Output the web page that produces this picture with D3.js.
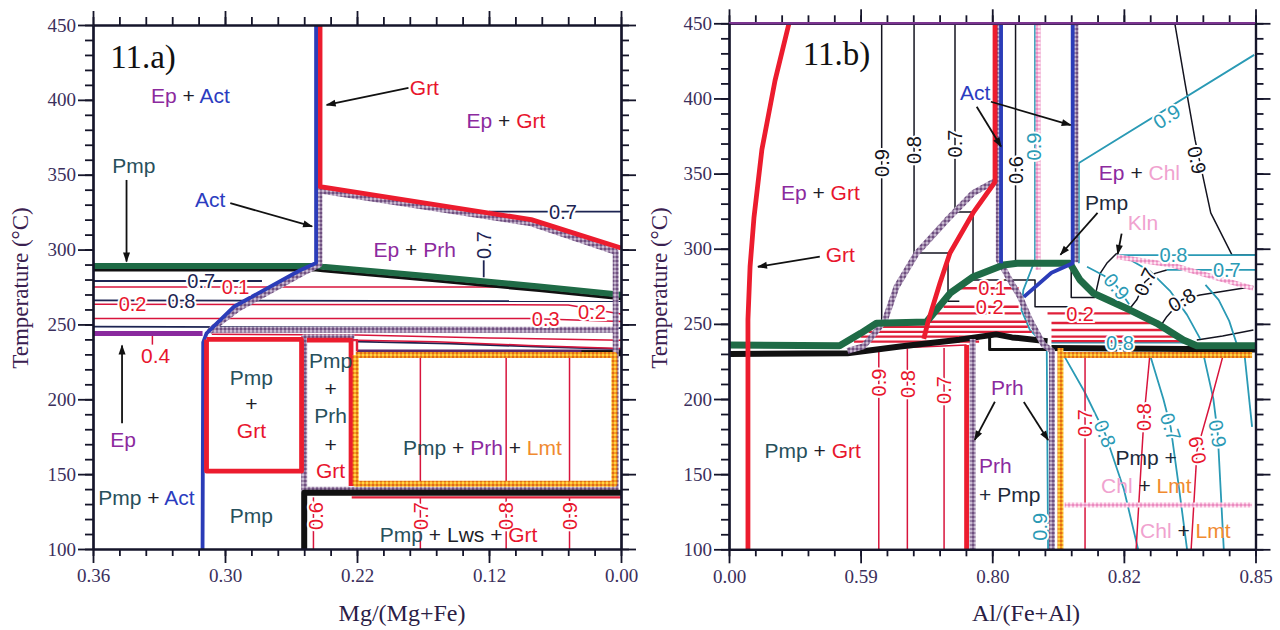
<!DOCTYPE html>
<html><head><meta charset="utf-8">
<script src="https://cdn.jsdelivr.net/npm/d3@7/dist/d3.min.js"></script>
<style>
html,body{margin:0;padding:0;background:#fff}
text{white-space:pre}
</style></head>
<body><svg id="chart" width="1280" height="630"></svg>
<script>
// ================= DATA (x in tick-interval units 0..4, y in °C) =================
const tempTicks = [100,150,200,250,300,350,400,450];
const aTickLabels = ["0.36","0.30","0.22","0.12","0.00"];
const bTickLabels = ["0.00","0.59","0.80","0.82","0.85"];

// ---- panel 11.a ----
const aGrt = [[1.72,450],[1.72,342],[3.32,320],[4,301]];
const aPrhRim = [[1.72,339.5],[3.32,317.5],[3.96,298.5],[3.96,139.5],[1.6,139.5],[1.6,241.5],[1.98,241.5]];
const aPrhBase = [[0.88,246.5],[3.96,246.5]];
const aActRim = [[1.715,342],[1.715,290],[1.59,284.5],[1.1,260.5],[0.9,247],[0.88,245]];
const aAct = [[1.69,450],[1.69,291],[1.565,286],[1.07,262],[0.86,244],[0.835,238],[0.83,100]];
const aPmp = [[0,289],[1.69,289],[1.74,288.5],[2.57,282],[3.38,275.3],[4,269.8]];
const aPmpUnder = [[0,286.3],[1.69,286.3],[1.74,285.8],[2.57,279.4],[3.38,272.6],[4,267.2]];
const aEp = [[0,244],[0.83,244]];
const aIsoNavy = [
  [[0,279],[1.28,279]], [[0,266],[4,265.5]], [[0,248.5],[4,247.5]],
  [[2,238.5],[2.7,237.2],[3.4,235],[4,233.5]], [[3,325.4],[4,325.4]], [[2.96,295],[2.96,281.5]]
];
const aIsoRed = [
  [[0,275],[3.4,275]], [[0,263.5],[3.6,263],[4,257]], [[0,254],[3.3,254],[4,252]],
  [[0.9,243.5],[2,243],[3,241],[4,239.5]], [[2,239.5],[2.6,238.5],[3.3,236],[4,234]],
  [[0.45,244],[0.45,236.5]],
  [[2.48,229],[2.48,143.5]], [[3.13,229],[3.13,143.5]], [[3.61,229],[3.61,143.5]],
  [[1.67,134.5],[1.67,100]], [[2.48,134.5],[2.48,100]], [[3.13,134.5],[3.13,100]], [[3.61,134.5],[3.61,100]]
];
const aLwsRed = [[1.96,134.5],[4,134.5]];
const aPmpGrtBox = [[0.86,240],[1.58,240],[1.58,152],[0.86,152],[0.86,240]];
const aPrhGrt = [[1.62,239.5],[1.955,239.5],[1.955,142]];
const aPrhGrtStep = [[1.955,239.5],[2.0,239.5],[2.0,232]];
const aLmtBox = [[1.99,229.5],[3.95,229.5],[3.95,143.5],[1.99,143.5],[1.99,229.5]];
const aLmtTop = [[2,232],[4,232]];
const aLwsBlack = [[1.6,100],[1.6,137.5],[4,137.5]];
const aBlackEnd = [[3.7,230.8],[4,230.8]];
const aLabels = [
  {p:[0.44,398], parts:[["Ep","ep"],[" + ","k"],["Act","act"]]},
  {p:[2.40,403], parts:[["Grt","grt"]]},
  {p:[2.83,381], parts:[["Ep","ep"],[" + ","k"],["Grt","grt"]]},
  {p:[0.145,351], parts:[["Pmp","pmp"]]},
  {p:[0.773,328.5], parts:[["Act","act"]]},
  {p:[2.125,295], parts:[["Ep","ep"],[" + ","k"],["Prh","ep"]]},
  {p:[0.364,224], parts:[["0.4","grt"]]},
  {p:[0.13,168], parts:[["Ep","ep"]]},
  {p:[0.04,129.6], parts:[["Pmp","pmp"],[" + ","k"],["Act","act"]]},
  {p:[1.2,209.7], a:"middle", parts:[["Pmp","pmp"]]},
  {p:[1.2,191.9], a:"middle", parts:[["+","k"]]},
  {p:[1.2,174.3], a:"middle", parts:[["Grt","grt"]]},
  {p:[1.2,117.5], a:"middle", parts:[["Pmp","pmp"]]},
  {p:[1.8,221], a:"middle", parts:[["Pmp","pmp"]]},
  {p:[1.8,201.9], a:"middle", parts:[["+","k"]]},
  {p:[1.8,184], a:"middle", parts:[["Prh","pmp"]]},
  {p:[1.8,165], a:"middle", parts:[["+","k"]]},
  {p:[1.8,147.4], a:"middle", parts:[["Grt","grt"]]},
  {p:[2.95,163], a:"middle", parts:[["Pmp","pmp"],[" + ","k"],["Prh","ep"],[" + ","k"],["Lmt","lmt"]]},
  {p:[2.77,105], a:"middle", parts:[["Pmp","pmp"],[" + ","k"],["Lws","k"],[" + ","k"],["Grt","grt"]]}
];
const aIsoLabels = [
  {t:"0.7",p:[0.82,279],c:"navy"}, {t:"0.1",p:[1.08,275],c:"grt"}, {t:"0.8",p:[0.67,266],c:"navy"},
  {t:"0.2",p:[0.3,263.5],c:"grt"}, {t:"0.3",p:[3.43,254],c:"grt"}, {t:"0.2",p:[3.78,258.5],c:"grt"},
  {t:"0.7",p:[3.56,325.4],c:"navy"}, {t:"0.7",p:[2.96,303],c:"navy",r:-90},
  {t:"0.6",p:[1.69,122],c:"grt",r:-90}, {t:"0.7",p:[2.48,122],c:"grt",r:-90},
  {t:"0.8",p:[3.13,122],c:"grt",r:-90}, {t:"0.9",p:[3.61,122],c:"grt",r:-90}
];
const aArrows = [
  [[2.39,408],[1.77,396.6]], [[0.254,346.5],[0.254,292]], [[1.04,331],[1.66,315.5]], [[0.22,184],[0.22,236]]
];

// ---- panel 11.b ----
const bGrtLeft = [[0.456,450],[0.35,412],[0.25,366],[0.19,321],[0.16,288],[0.144,253],[0.144,100]];
const bIsoBlack = [
  [[1.16,450],[1.16,250.6]],
  [[1.406,450],[1.406,297.2],[1.664,297.2],[1.664,265],[1.75,265]],
  [[1.717,450],[1.717,324.5],[1.854,324.5],[1.854,279.2],[2.325,279.2],[2.325,261.4],[2.6,261.4]],
  [[2.177,450],[2.177,290.5],[2.6,290.5],[2.6,267.5],[2.78,267.5]],
  [[1.12,251],[1.53,251]],
  [[3.387,450],[3.465,410],[3.541,372.4],[3.66,323.8],[3.822,295.8],[4,295.8]],
  [[2.946,297],[2.87,290.3],[2.82,283.6],[2.79,272]],
  [[3.326,285.9],[3.237,283.6],[3.161,278],[3.098,266],[3.047,260.4]],
  [[3.984,274.8],[3.579,269.2],[3.44,266],[3.326,254.8],[3.275,248.1]],
  [[3.554,239.3],[3.75,242],[3.984,245.9]]
];
const bIsoTeal = [
  [[2.325,450],[2.325,292.5],[2.236,272.5],[2.222,259.2],[2.287,245.9],[2.414,235],[2.424,100]],
  [[2.658,290.3],[2.658,357],[3.99,429]],
  [[2.946,295.8],[4,295.8]], [[3.326,285.9],[4,285.9]],
  [[2.72,288],[2.85,282],[2.946,275],[3.04,263]],
  [[3.05,292.5],[3.2,285],[3.35,272],[3.48,256],[3.58,240]],
  [[3.62,276],[3.72,266],[3.8,252],[3.86,236]],
  [[2.45,237.5],[3.5,237.5]],
  [[2.533,230.7],[2.7,205],[2.857,177],[3.0,140],[3.108,100]],
  [[3.2,229],[3.3,200],[3.356,181],[3.42,140],[3.48,100]],
  [[3.602,230.7],[3.68,200],[3.713,177],[3.759,100]],
  [[3.913,232.6],[3.974,181.5]]
];
const bIsoRed = [
  [[1.138,233.6],[1.138,100]], [[1.355,233.6],[1.355,100]], [[1.634,234],[1.634,100]],
  [[2.705,230],[2.705,100]],
  [[3.199,230.7],[3.153,188],[3.12,140],[3.093,100]],
  [[3.759,230.7],[3.65,195],[3.556,166],[3.511,100]],
  [[1.0,233],[1.805,236]]
];
// red isopleths inside the Pmp dome: [T, x from, x to]
const bRedDomeLeft = [[273.7,1.75,2.2],[261.4,1.63,2.2],[257,1.57,2.22],[251.4,1.5,2.26],[248.1,1.14,2.27],[244.7,1.06,2.3],[241.5,1.0,2.0],[238.2,0.95,1.9]];
const bRedDomeRight = [[257,2.42,3.05],[250.6,2.45,3.25],[245.9,2.45,3.35],[241.5,2.45,3.41],[238.5,2.45,3.5]];
const bGrtRight = [[2.021,450],[2.021,344.4],[1.854,323.8],[1.679,297.2],[1.603,277.2],[1.512,251.3],[1.48,240]];
const bGrtLow = [[1.805,236],[1.805,100]];
const bPrhCurve = [[2.034,345.7],[1.854,337],[1.654,319],[1.426,297],[1.274,274.8],[1.185,252.6],[1.1,243],[1.02,235],[0.9,232]];
const bPrhRight = [[2.05,450],[2.05,292.5],[2.135,279],[2.211,268],[2.287,252.6],[2.39,236],[2.454,232],[2.454,100]];
const bPrhLeft = [[1.851,240],[1.851,100]];
const bActRim = [[2.632,450],[2.632,291]];
const bAct1 = [[2.067,450],[2.067,290.3]];
const bAct2 = [[2.611,450],[2.611,290.3],[2.45,284],[2.24,268]];
const bChl = [[2.348,450],[2.348,286]];
const bChlLow = [[2.55,129.5],[3.974,129.5]];
const bKln = [[2.946,294.7],[3.37,289],[3.982,273.6]];
const bPmp = [[0,236],[0.84,235.5],[1.0,243.7],[1.12,250.4],[1.5,251.2],[1.68,270.4],[1.857,281.4],[2.085,289.2],[2.19,290.3],[2.59,290.3],[2.667,279.2],[2.768,270.4],[3.047,259.2],[3.25,250.4],[3.452,239.3],[3.554,235.5],[4,235.5]];
const bLws = [[0,230],[0.9,230.5],[1.3,235],[1.75,239.5],[2.03,243],[2.15,241],[2.42,238.5]];
const bLwsBox = [[1.98,241],[1.98,233],[2.44,233]];
const bLwsRight = [[2.45,234],[4,233]];
const bLmtV = [[2.518,234],[2.518,100]];
const bLmtH = [[2.518,229.3],[3.974,229.3]];
const bLabels = [
  {p:[0.395,332.4], parts:[["Ep","ep"],[" + ","k"],["Grt","grt"]]},
  {p:[0.735,291.4], parts:[["Grt","grt"]]},
  {p:[1.755,399], parts:[["Act","act"]]},
  {p:[2.81,345.7], parts:[["Ep","ep"],[" + ","k"],["Chl","chl"]]},
  {p:[2.705,325.8], parts:[["Pmp","pmpd"]]},
  {p:[3.03,312.5], parts:[["Kln","chl"]]},
  {p:[0.27,160.6], parts:[["Pmp","pmp"],[" + ","k"],["Grt","grt"]]},
  {p:[1.99,202.7], parts:[["Prh","ep"]]},
  {p:[1.9,150.6], parts:[["Prh","ep"]]},
  {p:[1.9,131.7], parts:[["+ Pmp","pmpd"]]},
  {p:[2.937,156], parts:[["Pmp +","pmpd"]]},
  {p:[2.827,137.3], parts:[["Chl","chl"],[" + ","k"],["Lmt","lmt"]]},
  {p:[3.123,107.6], parts:[["Chl","chl"],[" + ","k"],["Lmt","lmt"]]}
];
const bIsoLabels = [
  {t:"0.9",p:[1.16,357],c:"blk",r:-90}, {t:"0.8",p:[1.406,365.7],c:"blk",r:-90},
  {t:"0.7",p:[1.717,370],c:"blk",r:-90}, {t:"0.6",p:[2.177,352.4],c:"blk",r:-90},
  {t:"0.9",p:[2.318,368],c:"teal",r:-90}, {t:"0.9",p:[3.325,388],c:"teal",r:-32},
  {t:"0.9",p:[3.556,359],c:"blk",r:78},
  {t:"0.1",p:[2.0,273.7],c:"grt"}, {t:"0.2",p:[1.98,261.4],c:"grt"}, {t:"0.2",p:[2.667,257],c:"grt"},
  {t:"0.8",p:[3.376,295.8],c:"teal"}, {t:"0.7",p:[3.782,286],c:"teal"},
  {t:"0.9",p:[2.946,274.8],c:"teal",r:50}, {t:"0.7",p:[3.161,278],c:"blk",r:-65},
  {t:"0.8",p:[3.44,266],c:"blk",r:-30}, {t:"0.8",p:[2.97,237.5],c:"teal"},
  {t:"0.9",p:[1.138,211],c:"grt",r:-90}, {t:"0.8",p:[1.355,210],c:"grt",r:-90}, {t:"0.7",p:[1.634,206],c:"grt",r:-90},
  {t:"0.7",p:[2.705,184],c:"grt",r:-90}, {t:"0.8",p:[2.857,177],c:"teal",r:68},
  {t:"0.8",p:[3.153,188],c:"grt",r:-90}, {t:"0.7",p:[3.356,181.5],c:"teal",r:72},
  {t:"0.9",p:[3.556,166],c:"grt",r:-100}, {t:"0.9",p:[3.713,177],c:"teal",r:80},
  {t:"0.9",p:[2.36,115],c:"teal",r:-90}
];
const bArrows = [
  [[0.69,294.7],[0.22,288]], [[1.99,397.8],[2.596,382.3]], [[1.882,394.5],[2.067,368]],
  [[2.8,323.8],[2.518,296]], [[2.983,310],[2.953,296.5]], [[2.02,198.2],[1.867,172.8]], [[2.24,198],[2.424,172.8]]
];

// ================= STYLE =================
const COL = {ep:"#8c2a9e", act:"#2b3cc0", grt:"#e8152d", pmp:"#27505c", pmpd:"#1e2a3a", lmt:"#f08a30",
  chl:"#f0a2cf", k:"#1e1e28", navy:"#1d2452", blk:"#141420", teal:"#2a9ab5"};
const svg = d3.select("#chart");
const defs = svg.append("defs");
function pat(id, base, c1, c2){
  const p = defs.append("pattern").attr("id",id).attr("patternUnits","userSpaceOnUse").attr("width",4).attr("height",4);
  p.append("rect").attr("width",4).attr("height",4).attr("fill",base);
  p.append("rect").attr("width",2).attr("height",2).attr("fill",c1);
  p.append("rect").attr("x",2).attr("y",2).attr("width",2).attr("height",2).attr("fill",c2);
}
pat("hP","#9a82a6","#6e4f80","#c9bbd2");
pat("hO","#f5a020","#e06a18","#ffd34a");
pat("hK","#f5b2d6","#e98bbf","#fde6f2");
defs.append("marker").attr("id","arr").attr("viewBox","0 0 10 10").attr("refX",9).attr("refY",5)
  .attr("markerWidth",12).attr("markerHeight",10).attr("orient","auto").attr("markerUnits","userSpaceOnUse")
  .append("path").attr("d","M0,1.5L10,5L0,8.5Z").attr("fill","#111");

const ST = {
  red:{s:"#d8143c",w:1.5}, redM:{s:"#e0203a",w:2.4}, redT:{s:"#ec1c2e",w:4.8},
  blue:{s:"#2b3cb8",w:3.8}, green:{s:"#1f6b46",w:6}, greenB:{s:"#1f6b46",w:7},
  hatch:{s:"url(#hP)",w:6}, orange:{s:"url(#hO)",w:6}, pink:{s:"url(#hK)",w:5},
  navy:{s:"#1d2452",w:1.8}, blk:{s:"#141420",w:1.5}, blkT:{s:"#111",w:6}, blkM:{s:"#111",w:3},
  teal:{s:"#2a9ab5",w:1.8}, purp:{s:"#8a2a9e",w:5}, purpD:{s:"#5a2a6a",w:4}
};

function makePanel(left, right, top, bottom, id){
  const x = d3.scaleLinear().domain([0,4]).range([left,right]);
  const y = d3.scaleLinear().domain([100,450]).range([bottom,top]);
  defs.append("clipPath").attr("id",id).append("rect")
    .attr("x",left).attr("y",top).attr("width",right-left).attr("height",bottom-top);
  const g = svg.append("g");
  const plot = g.append("g").attr("clip-path",`url(#${id})`);
  return {x,y,g,plot};
}
function drawLine(P, pts, key){
  const st = ST[key];
  P.plot.append("path").datum(pts)
    .attr("d", d3.line().x(d=>P.x(d[0])).y(d=>P.y(d[1])))
    .attr("fill","none").attr("stroke",st.s).attr("stroke-width",st.w)
    .attr("stroke-linejoin","round").attr("stroke-linecap","butt");
}
function drawSegs(P, rows, key){
  rows.forEach(r => drawLine(P, [[r[1],r[0]],[r[2],r[0]]], key));
}
function drawLabel(P, it){
  const t = P.g.append("text").attr("x",P.x(it.p[0])).attr("y",P.y(it.p[1]))
    .attr("text-anchor",it.a||"start").attr("font-family","'Liberation Sans',Arial,sans-serif")
    .attr("font-size",21);
  it.parts.forEach(([s,c]) => t.append("tspan").attr("fill",COL[c]).text(s));
}
function drawIso(P, lb){
  P.g.append("text")
    .attr("transform",`translate(${P.x(lb.p[0])},${P.y(lb.p[1])}) rotate(${lb.r||0})`)
    .attr("text-anchor","middle").attr("dy","0.36em")
    .attr("font-family","'Liberation Sans',Arial,sans-serif").attr("font-size",20)
    .attr("fill",COL[lb.c]).attr("stroke","#fff").attr("stroke-width",4).attr("paint-order","stroke")
    .text(lb.t);
}
function drawArrow(P, a){
  P.g.append("line").attr("x1",P.x(a[0][0])).attr("y1",P.y(a[0][1]))
    .attr("x2",P.x(a[1][0])).attr("y2",P.y(a[1][1]))
    .attr("stroke","#111").attr("stroke-width",1.8).attr("marker-end","url(#arr)");
}
function drawAxes(P, labels, topColor, xTitle, titleX, yTitleX){
  const {x,y,g} = P;
  const minorX = d3.range(0,4.001,0.2), majorX = [0,1,2,3,4];
  const minorY = d3.range(100,451,10);
  const st = sel => { sel.selectAll("path").attr("stroke","#15152a").attr("stroke-width",2.2);
                      sel.selectAll("line").attr("stroke","#15152a").attr("stroke-width",1.8); };
  const B = y(100), T = y(450), L = x(0), R = x(4);
  st(g.append("g").attr("transform",`translate(0,${B})`).call(d3.axisBottom(x).tickValues(minorX).tickSize(7).tickSizeOuter(0).tickFormat("")));
  st(g.append("g").attr("transform",`translate(0,${B})`)
    .call(d3.axisBottom(x).tickValues(majorX).tickSize(14).tickSizeOuter(0).tickPadding(6).tickFormat(i=>labels[i])));
  st(g.append("g").attr("transform",`translate(0,${T})`).call(d3.axisTop(x).tickValues(minorX).tickSize(8).tickSizeOuter(0).tickFormat("")));
  st(g.append("g").attr("transform",`translate(0,${T})`).call(d3.axisTop(x).tickValues(majorX).tickSize(14).tickSizeOuter(0).tickFormat("")));
  if(topColor) g.append("line").attr("x1",L).attr("x2",R).attr("y1",T).attr("y2",T).attr("stroke",topColor).attr("stroke-width",2.4);
  st(g.append("g").attr("transform",`translate(${L},0)`).call(d3.axisLeft(y).tickValues(minorY).tickSize(8).tickSizeOuter(0).tickFormat("")));
  st(g.append("g").attr("transform",`translate(${L},0)`)
    .call(d3.axisLeft(y).tickValues(tempTicks).tickSize(15).tickSizeOuter(0).tickPadding(2).tickFormat(d3.format("d"))));
  st(g.append("g").attr("transform",`translate(${R},0)`).call(d3.axisRight(y).tickValues(minorY).tickSize(8).tickSizeOuter(0).tickFormat("")));
  st(g.append("g").attr("transform",`translate(${R},0)`).call(d3.axisRight(y).tickValues(tempTicks).tickSize(15).tickSizeOuter(0).tickFormat("")));
  g.selectAll(".tick text").attr("font-family","'Liberation Serif','Times New Roman',serif")
    .attr("font-size",19).attr("fill","#3b2f5c");
  g.append("text").attr("x",titleX).attr("y",621).attr("text-anchor","middle")
    .attr("font-family","'Liberation Serif','Times New Roman',serif").attr("font-size",24).attr("fill","#2a2045").text(xTitle);
  g.append("text").attr("transform",`translate(${yTitleX},288) rotate(-90)`).attr("text-anchor","middle")
    .attr("font-family","'Liberation Serif','Times New Roman',serif").attr("font-size",23).attr("fill","#3a2050").text("Temperature (°C)");
}

// ================= PANEL A =================
const A = makePanel(93, 621, 25, 549, "clipA");
aIsoNavy.forEach(s => drawLine(A, s, "navy"));
aIsoRed.forEach(s => drawLine(A, s, "red"));
drawLine(A, aLwsRed, "redM");
drawLine(A, aPrhBase, "hatch");
drawLine(A, aPmpUnder, "blkM");
drawLine(A, aPmp, "green");
drawLine(A, aEp, "purp");
drawLine(A, aLmtTop, "purpD");
drawLine(A, aBlackEnd, "blkT");
drawLine(A, aPrhRim, "hatch");
drawLine(A, aActRim, "hatch");
drawLine(A, aGrt, "redT");
drawLine(A, aAct, "blue");
drawLine(A, aPmpGrtBox, "redT");
drawLine(A, aPrhGrt, "redT");
drawLine(A, aPrhGrtStep, "redM");
drawLine(A, aLmtBox, "orange");
drawLine(A, aLwsBlack, "blkT");
drawAxes(A, aTickLabels, null, "Mg/(Mg+Fe)", 402, 28);
aIsoLabels.forEach(l => drawIso(A, l));
aLabels.forEach(l => drawLabel(A, l));
aArrows.forEach(a => drawArrow(A, a));
A.g.append("text").attr("x",A.x(0.13)).attr("y",A.y(421.3)).attr("font-family","'Liberation Serif','Times New Roman',serif")
  .attr("font-size",33).attr("fill","#111").text("11.a)");

// ================= PANEL B =================
const Bp = makePanel(729, 1255.5, 23.3, 549.3, "clipB");
bIsoBlack.forEach(s => drawLine(Bp, s, "blk"));
bIsoTeal.forEach(s => drawLine(Bp, s, "teal"));
bIsoRed.forEach(s => drawLine(Bp, s, "red"));
drawSegs(Bp, bRedDomeLeft, "redM");
drawSegs(Bp, bRedDomeRight, "redM");
drawLine(Bp, bKln, "pink");
drawLine(Bp, bChl, "pink");
drawLine(Bp, bChlLow, "pink");
drawLine(Bp, bLwsRight, "blkT");
drawLine(Bp, bLws, "blkT");
drawLine(Bp, bLwsBox, "blkM");
drawLine(Bp, bPrhCurve, "hatch");
drawLine(Bp, bPrhRight, "hatch");
drawLine(Bp, bPrhLeft, "hatch");
drawLine(Bp, bActRim, "hatch");
drawLine(Bp, bPmp, "greenB");
drawLine(Bp, bGrtLeft, "redT");
drawLine(Bp, bGrtRight, "redT");
drawLine(Bp, bGrtLow, "redT");
drawLine(Bp, bAct1, "blue");
drawLine(Bp, bAct2, "blue");
drawLine(Bp, bLmtV, "orange");
drawLine(Bp, bLmtH, "orange");
drawAxes(Bp, bTickLabels, "#7b3590", "Al/(Fe+Al)", 1026, 667);
bIsoLabels.forEach(l => drawIso(Bp, l));
bLabels.forEach(l => drawLabel(Bp, l));
bArrows.forEach(a => drawArrow(Bp, a));
Bp.g.append("text").attr("x",Bp.x(0.56)).attr("y",Bp.y(422)).attr("font-family","'Liberation Serif','Times New Roman',serif")
  .attr("font-size",33).attr("fill","#111").text("11.b)");
</script>
</body></html>
